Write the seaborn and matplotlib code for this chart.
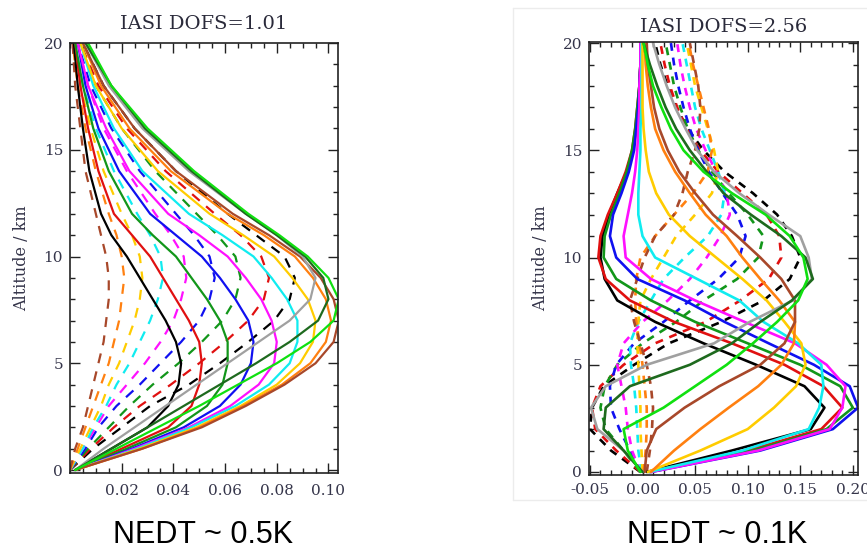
import numpy as np
import pandas as pd
import matplotlib
matplotlib.use("Agg")
import matplotlib.pyplot as plt
import seaborn as sns
from matplotlib.ticker import MultipleLocator, FixedLocator, FuncFormatter
from matplotlib.lines import Line2D

# ---------------- data: left panel (NEDT ~ 0.5K) ----------------
LEFT_ALT = [0, 1, 2, 3, 4, 5, 6, 7, 8, 9, 10, 11, 12, 14, 16, 18, 20]

L_S_BLACK = [0.002, 0.016, 0.030, 0.038, 0.042, 0.043, 0.041, 0.037, 0.032, 0.027, 0.022, 0.016, 0.012, 0.0075, 0.005, 0.003, 0.0015]
L_S_RED = [0.002, 0.020, 0.038, 0.047, 0.050, 0.051, 0.050, 0.046, 0.041, 0.036, 0.031, 0.024, 0.017, 0.011, 0.007, 0.004, 0.002]
L_S_GREEN = [0.002, 0.022, 0.041, 0.053, 0.059, 0.061, 0.061, 0.058, 0.053, 0.047, 0.041, 0.032, 0.024, 0.015, 0.009, 0.005, 0.002]
L_S_BLUE = [0.002, 0.024, 0.044, 0.058, 0.066, 0.070, 0.071, 0.069, 0.064, 0.058, 0.051, 0.041, 0.031, 0.019, 0.011, 0.006, 0.003]
L_S_MAGENTA = [0.002, 0.025, 0.046, 0.062, 0.073, 0.079, 0.080, 0.078, 0.074, 0.068, 0.061, 0.050, 0.038, 0.023, 0.014, 0.007, 0.003]
L_S_CYAN = [0.002, 0.026, 0.047, 0.064, 0.077, 0.085, 0.088, 0.088, 0.084, 0.078, 0.071, 0.059, 0.046, 0.028, 0.017, 0.009, 0.004]
L_S_GOLD = [0.002, 0.027, 0.049, 0.066, 0.080, 0.089, 0.094, 0.095, 0.092, 0.086, 0.079, 0.067, 0.054, 0.034, 0.020, 0.010, 0.004]
L_S_ORANGE = [0.002, 0.028, 0.050, 0.067, 0.082, 0.093, 0.099, 0.101, 0.099, 0.094, 0.087, 0.075, 0.061, 0.039, 0.023, 0.012, 0.005]
L_S_BROWN = [0.002, 0.028, 0.051, 0.068, 0.083, 0.095, 0.102, 0.104, 0.102, 0.097, 0.089, 0.077, 0.063, 0.041, 0.025, 0.013, 0.005]
L_S_GRAY = [0.002, 0.013, 0.025, 0.037, 0.049, 0.061, 0.073, 0.085, 0.093, 0.095, 0.090, 0.080, 0.068, 0.046, 0.028, 0.015, 0.006]
L_S_DKGREEN = [0.002, 0.016, 0.030, 0.044, 0.058, 0.072, 0.085, 0.096, 0.100, 0.098, 0.091, 0.080, 0.068, 0.047, 0.029, 0.016, 0.006]
L_S_LIME = [0.002, 0.018, 0.034, 0.050, 0.065, 0.080, 0.093, 0.102, 0.104, 0.100, 0.092, 0.081, 0.069, 0.048, 0.030, 0.016, 0.007]

L_D_BLACK = [0.000, 0.009, 0.020, 0.031, 0.046, 0.058, 0.069, 0.079, 0.085, 0.087, 0.083, 0.072, 0.061, 0.041, 0.025, 0.013, 0.005]
L_D_RED = [0.000, 0.008, 0.017, 0.027, 0.039, 0.050, 0.060, 0.069, 0.075, 0.077, 0.074, 0.066, 0.056, 0.037, 0.022, 0.011, 0.004]
L_D_GREEN = [0.000, 0.007, 0.015, 0.023, 0.032, 0.042, 0.051, 0.059, 0.064, 0.066, 0.064, 0.057, 0.049, 0.033, 0.020, 0.010, 0.004]
L_D_BLUE = [0.000, 0.006, 0.011, 0.018, 0.027, 0.035, 0.043, 0.050, 0.054, 0.056, 0.054, 0.048, 0.041, 0.027, 0.016, 0.008, 0.003]
L_D_MAGENTA = [0.000, 0.005, 0.010, 0.015, 0.022, 0.029, 0.035, 0.040, 0.043, 0.045, 0.044, 0.039, 0.033, 0.022, 0.013, 0.007, 0.003]
L_D_CYAN = [0.000, 0.005, 0.009, 0.014, 0.018, 0.023, 0.027, 0.031, 0.034, 0.036, 0.035, 0.031, 0.026, 0.017, 0.010, 0.005, 0.002]
L_D_GOLD = [0.000, 0.004, 0.008, 0.012, 0.015, 0.019, 0.022, 0.025, 0.027, 0.028, 0.027, 0.024, 0.020, 0.013, 0.008, 0.004, 0.002]
L_D_ORANGE = [0.000, 0.003, 0.006, 0.009, 0.012, 0.015, 0.017, 0.019, 0.020, 0.021, 0.020, 0.018, 0.015, 0.010, 0.006, 0.003, 0.001]
L_D_BROWN = [0.000, 0.002, 0.005, 0.007, 0.009, 0.011, 0.013, 0.014, 0.015, 0.015, 0.014, 0.012, 0.010, 0.006, 0.004, 0.002, 0.001]

# ---------------- data: right panel (NEDT ~ 0.1K) ----------------
RIGHT_ALT = [0, 1, 2, 3, 4, 5, 6, 7, 8, 9, 10, 11, 12, 13, 14, 15, 16, 17, 18, 19, 20]

R_S_BLACK = [0.004, 0.085, 0.160, 0.173, 0.154, 0.108, 0.058, 0.012, -0.024, -0.036, -0.040, -0.038, -0.032, -0.024, -0.015, -0.009, -0.006, -0.004, -0.003, -0.002, -0.002]
R_S_RED = [0.006, 0.100, 0.170, 0.190, 0.172, 0.135, 0.085, 0.030, -0.012, -0.035, -0.042, -0.040, -0.033, -0.024, -0.016, -0.010, -0.007, -0.005, -0.003, -0.002, -0.002]
R_S_GREEN = [0.007, 0.105, 0.175, 0.200, 0.188, 0.150, 0.100, 0.050, 0.008, -0.025, -0.037, -0.036, -0.030, -0.022, -0.015, -0.010, -0.007, -0.005, -0.003, -0.002, -0.002]
R_S_BLUE = [0.008, 0.112, 0.181, 0.205, 0.197, 0.163, 0.120, 0.078, 0.040, -0.005, -0.025, -0.031, -0.028, -0.020, -0.013, -0.008, -0.006, -0.004, -0.003, -0.002, -0.002]
R_S_MAGENTA = [0.008, 0.110, 0.178, 0.190, 0.193, 0.175, 0.145, 0.097, 0.050, 0.008, -0.016, -0.018, -0.014, -0.010, -0.007, -0.005, -0.004, -0.003, -0.003, -0.002, -0.002]
R_S_CYAN = [0.006, 0.095, 0.158, 0.168, 0.172, 0.170, 0.148, 0.115, 0.092, 0.052, 0.012, 0.000, -0.004, -0.004, -0.003, -0.002, -0.002, -0.001, -0.001, -0.001, -0.001]
R_S_GOLD = [0.005, 0.055, 0.100, 0.125, 0.146, 0.155, 0.151, 0.135, 0.118, 0.095, 0.070, 0.045, 0.025, 0.013, 0.006, 0.003, 0.001, 0.000, 0.000, 0.000, 0.000]
R_S_ORANGE = [0.008, 0.030, 0.055, 0.082, 0.110, 0.132, 0.144, 0.145, 0.130, 0.112, 0.095, 0.080, 0.060, 0.045, 0.031, 0.020, 0.012, 0.008, 0.005, 0.003, 0.002]
R_S_BROWN = [0.002, 0.004, 0.013, 0.040, 0.073, 0.112, 0.135, 0.145, 0.145, 0.132, 0.112, 0.090, 0.067, 0.050, 0.035, 0.024, 0.016, 0.011, 0.008, 0.005, 0.004]
R_S_GRAY = [0.000, -0.018, -0.043, -0.049, -0.035, 0.004, 0.068, 0.102, 0.143, 0.161, 0.158, 0.150, 0.120, 0.092, 0.068, 0.052, 0.041, 0.031, 0.023, 0.016, 0.010]
R_S_DKGREEN = [0.000, -0.018, -0.037, -0.035, -0.012, 0.045, 0.085, 0.112, 0.142, 0.162, 0.155, 0.132, 0.103, 0.077, 0.061, 0.045, 0.032, 0.022, 0.014, 0.007, 0.001]
R_S_LIME = [-0.002, -0.014, -0.018, 0.020, 0.050, 0.080, 0.105, 0.128, 0.148, 0.157, 0.153, 0.140, 0.117, 0.085, 0.058, 0.039, 0.027, 0.018, 0.010, 0.005, 0.001]

R_D_BLACK = [-0.002, -0.030, -0.050, -0.048, -0.037, -0.008, 0.025, 0.075, 0.115, 0.140, 0.150, 0.142, 0.128, 0.105, 0.078, 0.058, 0.043, 0.032, 0.024, 0.017, 0.012]
R_D_RED = [-0.002, -0.025, -0.045, -0.048, -0.040, -0.018, 0.012, 0.060, 0.093, 0.120, 0.132, 0.130, 0.118, 0.095, 0.072, 0.055, 0.042, 0.033, 0.026, 0.021, 0.017]
R_D_GREEN = [-0.002, -0.018, -0.035, -0.040, -0.036, -0.024, 0.000, 0.032, 0.058, 0.090, 0.110, 0.115, 0.100, 0.082, 0.066, 0.053, 0.043, 0.036, 0.030, 0.026, 0.022]
R_D_BLUE = [-0.002, -0.012, -0.022, -0.030, -0.031, -0.025, -0.008, 0.020, 0.045, 0.072, 0.092, 0.098, 0.090, 0.076, 0.063, 0.053, 0.045, 0.039, 0.034, 0.030, 0.027]
R_D_MAGENTA = [-0.002, -0.010, -0.014, -0.016, -0.020, -0.024, -0.018, 0.000, 0.024, 0.045, 0.061, 0.074, 0.083, 0.080, 0.070, 0.060, 0.051, 0.045, 0.040, 0.036, 0.033]
R_D_CYAN = [-0.001, -0.004, -0.005, -0.006, -0.008, -0.011, -0.012, -0.004, 0.008, 0.020, 0.040, 0.062, 0.075, 0.078, 0.072, 0.064, 0.056, 0.050, 0.046, 0.042, 0.038]
R_D_GOLD = [0.000, -0.001, -0.002, -0.002, -0.003, -0.004, -0.005, -0.004, -0.002, 0.008, 0.020, 0.032, 0.050, 0.066, 0.072, 0.068, 0.062, 0.056, 0.050, 0.046, 0.042]
R_D_ORANGE = [0.001, 0.003, 0.004, 0.004, 0.002, 0.000, -0.003, -0.006, -0.007, -0.006, -0.002, 0.012, 0.030, 0.048, 0.062, 0.066, 0.063, 0.058, 0.053, 0.048, 0.044]
R_D_BROWN = [0.004, 0.007, 0.009, 0.010, 0.008, 0.004, -0.002, -0.008, -0.012, -0.005, 0.002, 0.012, 0.030, 0.038, 0.043, 0.050, 0.054, 0.055, 0.053, 0.049, 0.045]

TITLES = ["IASI DOFS=1.01", "IASI DOFS=2.56"]
CAPTIONS = ["NEDT ~ 0.5K", "NEDT ~ 0.1K"]
LEFT_XTICKS = [0.02, 0.04, 0.06, 0.08, 0.10]
RIGHT_XTICKS = [-0.05, 0.00, 0.05, 0.10, 0.15, 0.20]
YTICKS = [0, 5, 10, 15, 20]

# ---------------- styling ----------------
C = {
    "black": "#000000", "red": "#e01010", "green": "#12961a", "blue": "#1010f0",
    "magenta": "#ff10ff", "cyan": "#10ecf0", "gold": "#ffcc00", "orange": "#ff8010",
    "brown": "#a8482a", "gray": "#a0a0a0", "dkgreen": "#1e6a1e", "lime": "#10e010",
}

left_solid = [(L_S_BLACK, "black"), (L_S_RED, "red"), (L_S_GREEN, "green"), (L_S_BLUE, "blue"),
              (L_S_MAGENTA, "magenta"), (L_S_CYAN, "cyan"), (L_S_GOLD, "gold"), (L_S_ORANGE, "orange"),
              (L_S_BROWN, "brown"), (L_S_GRAY, "gray"), (L_S_DKGREEN, "dkgreen"), (L_S_LIME, "lime")]
left_dash = [(L_D_BLACK, "black"), (L_D_RED, "red"), (L_D_GREEN, "green"), (L_D_BLUE, "blue"),
             (L_D_MAGENTA, "magenta"), (L_D_CYAN, "cyan"), (L_D_GOLD, "gold"), (L_D_ORANGE, "orange"),
             (L_D_BROWN, "brown")]
right_solid = [(R_S_BLACK, "black"), (R_S_RED, "red"), (R_S_GREEN, "green"), (R_S_BLUE, "blue"),
               (R_S_MAGENTA, "magenta"), (R_S_CYAN, "cyan"), (R_S_GOLD, "gold"), (R_S_ORANGE, "orange"),
               (R_S_BROWN, "brown"), (R_S_GRAY, "gray"), (R_S_DKGREEN, "dkgreen"), (R_S_LIME, "lime")]
right_dash = [(R_D_BLACK, "black"), (R_D_RED, "red"), (R_D_GREEN, "green"), (R_D_BLUE, "blue"),
              (R_D_MAGENTA, "magenta"), (R_D_CYAN, "cyan"), (R_D_GOLD, "gold"), (R_D_ORANGE, "orange"),
              (R_D_BROWN, "brown")]

sns.set_style("ticks")
plt.rcParams["font.family"] = ["DejaVu Serif"]
plt.rcParams["axes.unicode_minus"] = False

W, H = 867, 549
fig = plt.figure(figsize=(W / 100, H / 100), dpi=100)
fig.patch.set_facecolor("white")


def rect(x0, y0, x1, y1):
    return [x0 / W, 1 - y1 / H, (x1 - x0) / W, (y1 - y0) / H]


# faint frame of the pasted right-hand picture
for xs, ys in [([513, 867], [8, 8]), ([513, 513], [8, 500]), ([513, 867], [500, 500])]:
    fig.add_artist(Line2D([x / W for x in xs], [1 - y / H for y in ys], color="#ececec", lw=1))

axL = fig.add_axes(rect(70, 43, 338, 473))
axR = fig.add_axes(rect(589, 42, 858, 475))


def draw(ax, alts, dashed, solid, lw, dash):
    for vals, cname in dashed:
        df = pd.DataFrame({"x": vals, "alt": alts})
        sns.lineplot(data=df, x="x", y="alt", sort=False, estimator=None, color=C[cname],
                     lw=lw, linestyle=(0, dash), ax=ax, legend=False)
    for vals, cname in solid:
        df = pd.DataFrame({"x": vals, "alt": alts})
        sns.lineplot(data=df, x="x", y="alt", sort=False, estimator=None, color=C[cname],
                     lw=lw, linestyle="-", ax=ax, legend=False)


draw(axL, LEFT_ALT, left_dash, left_solid, 1.6, (4.5, 3.8))
draw(axR, RIGHT_ALT, right_dash, right_solid, 1.9, (3.0, 2.6))

axL.set_xlim(0, 0.1037)
axL.set_ylim(-0.14, 20)
axR.set_xlim(-0.0509, 0.2049)
axR.set_ylim(-0.14, 20.05)

fmt = FuncFormatter(lambda v, p: "%.2f" % v)
axL.xaxis.set_major_locator(FixedLocator(LEFT_XTICKS))
axL.xaxis.set_minor_locator(MultipleLocator(0.005))
axR.xaxis.set_major_locator(FixedLocator(RIGHT_XTICKS))
axR.xaxis.set_minor_locator(MultipleLocator(0.01))

for ax, title, tpad, xpad in [(axL, TITLES[0], 10, 8), (axR, TITLES[1], 7, 5.5)]:
    ax.xaxis.set_major_formatter(fmt)
    ax.yaxis.set_major_locator(FixedLocator(YTICKS))
    ax.yaxis.set_minor_locator(MultipleLocator(1))
    ax.tick_params(which="both", direction="in", top=True, right=True, color="#222222",
                   labelcolor="#35354a", labelsize=11)
    ax.tick_params(which="major", length=7, width=1.0)
    ax.tick_params(which="minor", length=3.5, width=1.0)
    ax.tick_params(axis="x", which="major", pad=xpad)
    ax.tick_params(axis="y", which="major", pad=5)
    for sp in ax.spines.values():
        sp.set_linewidth(1.2)
        sp.set_color("#222222")
        sp.set_visible(True)
    ax.set_xlabel("")
    ax.set_ylabel("Altitude / km", fontsize=11.5, color="#35354a", labelpad=10)
    ax.set_title(title, fontsize=14, pad=tpad, color="#2a2a3a")
    ax.set_facecolor("white")

fig.text(203 / W, 1 - 543 / H, CAPTIONS[0], ha="center", va="baseline", fontsize=22,
         family=["Liberation Sans", "DejaVu Sans"], color="black")
fig.text(717 / W, 1 - 543 / H, CAPTIONS[1], ha="center", va="baseline", fontsize=22,
         family=["Liberation Sans", "DejaVu Sans"], color="black")

fig.savefig("out.png", dpi=100, facecolor="white")
